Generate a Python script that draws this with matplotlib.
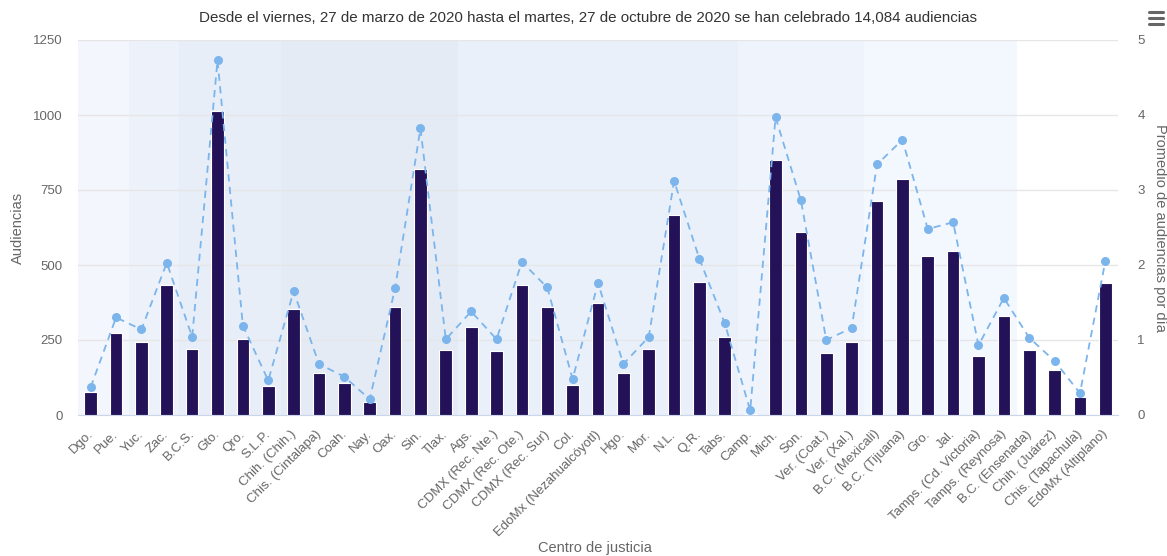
import matplotlib
matplotlib.use("Agg")
import matplotlib.pyplot as plt
from matplotlib.lines import Line2D
import matplotlib.transforms as mtransforms

categories = ["Dgo.", "Pue.", "Yuc.", "Zac.", "B.C.S.", "Gto.", "Qro.", "S.L.P.",
              "Chih. (Chih.)", "Chis. (Cintalapa)", "Coah.", "Nay.", "Oax.", "Sin.",
              "Tlax.", "Ags.", "CDMX (Rec. Nte.)", "CDMX (Rec. Ote.)", "CDMX (Rec. Sur)",
              "Col.", "EdoMx (Nezahualcóyotl)", "Hgo.", "Mor.", "N.L.", "Q.R.", "Tabs.",
              "Camp.", "Mich.", "Son.", "Ver. (Coat.)", "Ver. (Xal.)", "B.C. (Mexicali)",
              "B.C. (Tijuana)", "Gro.", "Jal.", "Tamps. (Cd. Victoria)", "Tamps. (Reynosa)",
              "B.C. (Ensenada)", "Chih. (Juárez)", "Chis. (Tapachula)", "EdoMx (Altiplano)"]

audiencias = [78, 275, 244, 432, 219, 1013, 252, 97, 353, 140, 108, 42, 360, 819,
              216, 294, 212, 435, 360, 100, 373, 140, 219, 667, 443, 259, 2, 851,
              609, 208, 243, 713, 787, 529, 548, 198, 331, 216, 150, 60, 439]

promedio = [0.37, 1.30, 1.14, 2.03, 1.04, 4.73, 1.19, 0.46, 1.65, 0.68, 0.51, 0.21,
            1.69, 3.82, 1.01, 1.38, 1.01, 2.04, 1.70, 0.48, 1.76, 0.68, 1.04, 3.12,
            2.08, 1.22, 0.06, 3.97, 2.86, 1.00, 1.16, 3.34, 3.67, 2.48, 2.57, 0.93,
            1.56, 1.03, 0.72, 0.29, 2.05]

# plot bands: (first category index, last category index, colour)
bands = [(0, 1, "#f3f6fd"), (2, 3, "#edf2fa"), (4, 7, "#e8eef8"), (8, 14, "#e4ebf5"),
         (15, 25, "#e9f0f9"), (26, 30, "#eef3fc"), (31, 36, "#f3f7fe")]

title = "Desde el viernes, 27 de marzo de 2020 hasta el martes, 27 de octubre de 2020 se han celebrado 14,084 audiencias"

plt.rcParams['font.family'] = ['Liberation Sans', 'DejaVu Sans']

W, H = 1167, 556
fig = plt.figure(figsize=(W / 100, H / 100), dpi=100)
ax = fig.add_axes([78 / W, (H - 415) / H, 1040 / W, 375 / H])
ax2 = ax.twinx()

x = list(range(len(categories)))
for a, b, c in bands:
    ax.axvspan(a - 0.5, b + 0.5, color=c, lw=0, zorder=0)

ax.bar(x, audiencias, width=0.5, color="#241258", edgecolor="white", linewidth=0.8, zorder=3)
ax2.plot(x, promedio, color="#7cb5ec", lw=1.3, ls=(0, (4, 3)), marker="o",
         markersize=6.5, markeredgewidth=0, zorder=4)

ax.set_xlim(-0.5, len(categories) - 0.5)
ax.set_ylim(0, 1250)
ax2.set_ylim(0, 5)
ax.set_yticks([0, 250, 500, 750, 1000, 1250])
ax2.set_yticks([0, 1, 2, 3, 4, 5])
ax.yaxis.grid(True, color="#e6e6e6", lw=1, zorder=1)
ax.set_axisbelow(False)
for g in ax.get_ygridlines():
    g.set_zorder(1)

for a in (ax, ax2):
    for s in a.spines.values():
        s.set_visible(False)
    a.tick_params(axis="y", length=0, labelsize=9.5, labelcolor="#666666")
ax.spines["bottom"].set_visible(True)
ax.spines["bottom"].set_color("#ccd6eb")
ax.tick_params(axis="y", pad=11)
ax2.tick_params(axis="y", pad=14)

ax.set_xticks(x)
ax.set_xticklabels(categories, rotation=45, ha="right", va="top", rotation_mode="anchor",
                   fontsize=9.5, color="#666666")
ax.tick_params(axis="x", length=0, pad=8)
offset = mtransforms.ScaledTranslation(-4 / 100, -2 / 100, fig.dpi_scale_trans)
for lab in ax.get_xticklabels():
    lab.set_transform(lab.get_transform() + offset)

ax.set_ylabel("Audiencias", fontsize=10.5, color="#666666", labelpad=6)
ax2.set_ylabel("Promedio de audiencias por día", fontsize=10.5, color="#666666",
               rotation=-90, labelpad=16)
fig.text(595 / W, 1 - 548 / H, "Centro de justicia", fontsize=10.5, color="#666666",
         ha="center", va="center")
fig.text(588 / W, 1 - 18 / H, title, fontsize=10.9, color="#333333", ha="center", va="center")

# menu icon
for yy in (12, 18, 24):
    fig.add_artist(Line2D([1149 / W, 1163 / W], [1 - yy / H, 1 - yy / H],
                          color="#666666", lw=2.2, solid_capstyle="round"))

fig.savefig("out.png", dpi=100)
